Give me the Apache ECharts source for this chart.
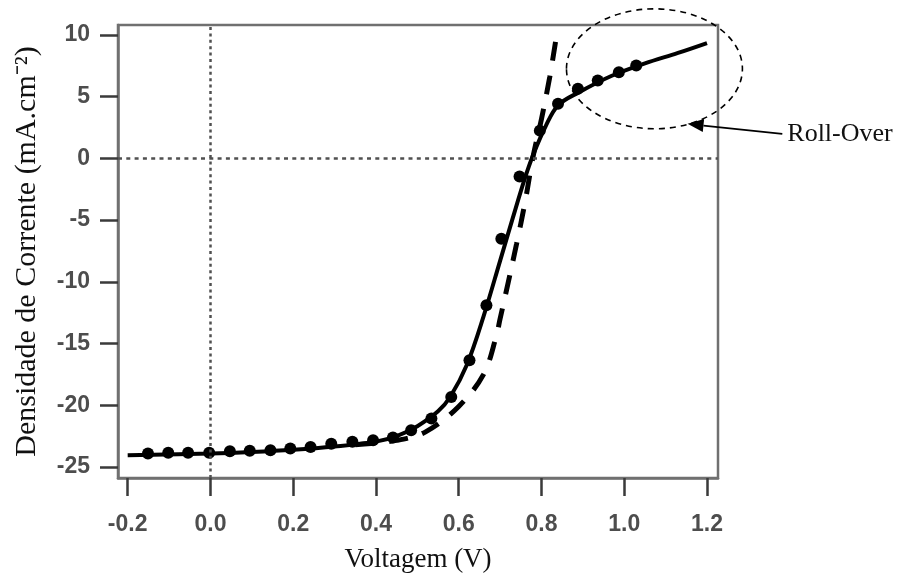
<!DOCTYPE html>
<html>
<head>
<meta charset="utf-8">
<script src="https://cdn.jsdelivr.net/npm/echarts@6/dist/echarts.min.js"></script>
<style>
html,body{margin:0;padding:0;background:#fff;}
#c{width:899px;height:579px;}
</style>
</head>
<body>
<div id="c"></div>
<script>
// ---- data ----
const xTicks = [-0.2, 0.0, 0.2, 0.4, 0.6, 0.8, 1.0, 1.2];
const yTicks = [-25, -20, -15, -10, -5, 0, 5, 10];

const pointsX = [-0.151, -0.102, -0.054, -0.003, 0.047, 0.095, 0.145, 0.193, 0.242, 0.292, 0.343, 0.393, 0.441, 0.485, 0.534, 0.582, 0.626, 0.667, 0.703, 0.747, 0.796, 0.840, 0.888, 0.936, 0.987, 1.029];
const pointsY = [-23.92, -23.86, -23.86, -23.86, -23.73, -23.70, -23.65, -23.51, -23.38, -23.12, -22.97, -22.84, -22.62, -22.03, -21.08, -19.33, -16.36, -11.91, -6.51, -1.47, 2.25, 4.42, 5.64, 6.31, 6.99, 7.52];

const fitX = [-0.2, 0.0, 0.1, 0.2, 0.3, 0.4, 0.45, 0.5, 0.55, 0.58, 0.62, 0.66, 0.70, 0.73, 0.76, 0.78, 0.81, 0.84, 0.89, 0.97, 1.05, 1.13, 1.2];
const fitY = [-24.05, -23.92, -23.80, -23.62, -23.35, -22.95, -22.50, -21.70, -20.50, -19.30, -16.70, -12.80, -8.30, -4.90, -1.60, 0.30, 2.60, 4.30, 5.35, 6.70, 7.70, 8.55, 9.35];

const idealX = [0.35, 0.45, 0.52, 0.60, 0.66, 0.69, 0.70, 0.72, 0.74, 0.76, 0.78, 0.80, 0.82, 0.837];
const idealY = [-23.20, -22.85, -22.16, -20.10, -17.50, -14.50, -13.00, -10.00, -6.90, -3.60, 0.20, 3.20, 6.60, 10.10];

const xName = 'Voltagem (V)';
const yName = 'Densidade de Corrente (mA.cm\u207B\u00B2)';
const noteText = 'Roll-Over';

// ---- build ----
const zip = (a, b) => a.map((v, i) => [v, b[i]]);
const chart = echarts.init(document.getElementById('c'), null, {renderer: 'canvas'});

const tickLabelStyle = {
  fontFamily: 'Liberation Sans, Arial, sans-serif',
  fontWeight: 'bold',
  fontSize: 23,
  color: '#4d4d4d'
};

chart.setOption({
  animation: false,
  backgroundColor: '#ffffff',
  grid: {
    left: 118, top: 25, right: 181, bottom: 101,
    show: true, borderColor: '#707070', borderWidth: 2.5, backgroundColor: 'transparent'
  },
  xAxis: {
    type: 'value',
    min: -0.2234, max: 1.2266,
    name: xName,
    nameLocation: 'middle',
    nameGap: 68,
    nameTextStyle: {fontFamily: 'Liberation Serif, Times New Roman, serif', fontSize: 27, color: '#111'},
    axisLine: {show: true, onZero: false, lineStyle: {color: '#707070', width: 2.5}},
    axisTick: {show: true, inside: false, length: 18, customValues: xTicks, lineStyle: {color: '#3a3a3a', width: 2.5}},
    axisLabel: Object.assign({margin: 35, customValues: xTicks, formatter: v => v.toFixed(1)}, tickLabelStyle),
    splitLine: {show: false}
  },
  yAxis: {
    type: 'value',
    min: -25.9, max: 10.81,
    name: yName,
    nameLocation: 'middle',
    nameGap: 76,
    nameTextStyle: {fontFamily: 'Liberation Serif, Times New Roman, serif', fontSize: 30, color: '#111'},
    axisLine: {show: true, onZero: false, lineStyle: {color: '#707070', width: 2.5}},
    axisTick: {show: true, inside: false, length: 18, customValues: yTicks, lineStyle: {color: '#3a3a3a', width: 2.5}},
    axisLabel: Object.assign({margin: 28, customValues: yTicks, formatter: v => String(v)}, tickLabelStyle),
    splitLine: {show: false}
  },
  series: [
    {
      type: 'line', data: [], z: 1, silent: true,
      markLine: {
        silent: true, symbol: ['none', 'none'], label: {show: false},
        data: [
          {yAxis: 0, lineStyle: {color: '#505050', width: 2.5, type: [4, 4.3]}},
          {xAxis: 0, lineStyle: {color: '#505050', width: 2.5, type: [3, 3.4]}}
        ]
      }
    },
    {
      name: 'ajuste', type: 'line', data: zip(fitX, fitY), smooth: 0.35,
      showSymbol: false, z: 3,
      lineStyle: {color: '#000', width: 4}
    },
    {
      name: 'ideal', type: 'line', data: zip(idealX, idealY), smooth: 0.35,
      showSymbol: false, z: 3,
      lineStyle: {color: '#000', width: 5, type: [19, 15]}
    },
    {
      name: 'medido', type: 'scatter', data: zip(pointsX, pointsY),
      symbol: 'circle', symbolSize: 12, z: 4,
      itemStyle: {color: '#000', opacity: 1}
    }
  ]
});

// ---- annotation (ellipse + arrow + label), anchored in data units ----
const ell = {cx: 1.073, cy: 7.26, rx: 0.2126, ry: 4.86};
const arrowTip = [1.153, 2.80];
const arrowTail = [1.382, 1.99];

function px(p) { return chart.convertToPixel({gridIndex: 0}, p); }
const c0 = px([ell.cx, ell.cy]);
const cR = px([ell.cx + ell.rx, ell.cy]);
const cT = px([ell.cx, ell.cy + ell.ry]);
const tip = px(arrowTip);
const tail = px(arrowTail);
const dx = tip[0] - tail[0], dy = tip[1] - tail[1];
const L = Math.sqrt(dx * dx + dy * dy);
const ux = dx / L, uy = dy / L;
const headLen = 16, headW = 6.5;
const bx = tip[0] - ux * headLen, by = tip[1] - uy * headLen;

chart.setOption({
  graphic: [
    {
      type: 'ellipse', z: 10, silent: true,
      shape: {cx: c0[0], cy: c0[1], rx: cR[0] - c0[0], ry: c0[1] - cT[1]},
      style: {fill: 'none', stroke: '#000', lineWidth: 1.6, lineDash: [6, 5]}
    },
    {
      type: 'line', z: 10, silent: true,
      shape: {x1: tail[0], y1: tail[1], x2: bx, y2: by},
      style: {stroke: '#000', lineWidth: 1.8}
    },
    {
      type: 'polygon', z: 10, silent: true,
      shape: {points: [
        [tip[0], tip[1]],
        [bx - uy * headW, by + ux * headW],
        [bx + uy * headW, by - ux * headW]
      ]},
      style: {fill: '#000'}
    },
    {
      type: 'text', z: 10, silent: true,
      x: tail[0] + 5, y: tail[1],
      style: {
        text: noteText,
        font: '26px "Liberation Serif", "Times New Roman", serif',
        fill: '#111',
        textAlign: 'left',
        textVerticalAlign: 'middle'
      }
    }
  ]
});
</script>
</body>
</html>
